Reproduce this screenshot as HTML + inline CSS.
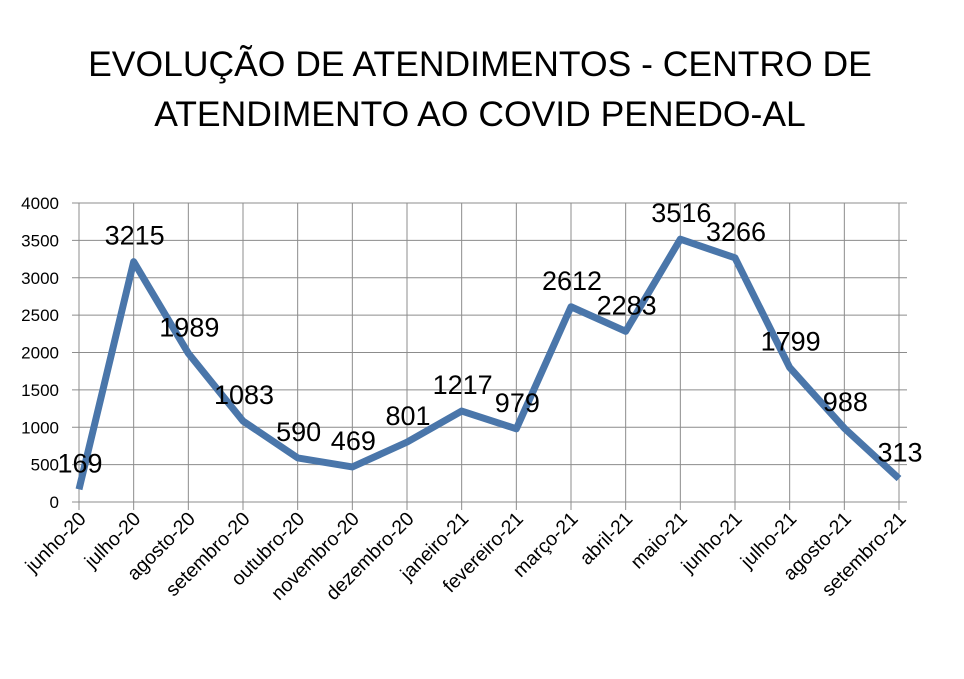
<!DOCTYPE html>
<html><head><meta charset="utf-8"><style>
html,body{margin:0;padding:0;background:#fff;}
svg{display:block;font-family:"Liberation Sans",sans-serif;}
</style></head><body>
<svg id="c" width="964" height="679">
<text x="480" y="76" font-size="35.5" text-anchor="middle" fill="#000">EVOLUÇÃO DE ATENDIMENTOS - CENTRO DE</text>
<text x="480" y="126" font-size="35.5" text-anchor="middle" fill="#000">ATENDIMENTO AO COVID PENEDO-AL</text>
<g id="grid"></g>
<g id="marks"></g>
</svg>
<script>
const categories=["junho-20","julho-20","agosto-20","setembro-20","outubro-20","novembro-20","dezembro-20","janeiro-21","fevereiro-21","março-21","abril-21","maio-21","junho-21","julho-21","agosto-21","setembro-21"];
const values=[169,3215,1989,1083,590,469,801,1217,979,2612,2283,3516,3266,1799,988,313];
const yTicks=[0,500,1000,1500,2000,2500,3000,3500,4000];
const NS="http://www.w3.org/2000/svg";
const x0=79,x1=899,yTop=203,yBot=502,yMax=4000;
function xs(i){return x0+i*(x1-x0)/(categories.length-1);}
function ys(v){return yBot-v*(yBot-yTop)/yMax;}
function mk(t,a,p){const e=document.createElementNS(NS,t);for(const k in a)e.setAttribute(k,a[k]);p.appendChild(e);return e;}
const g=document.getElementById('grid'),m=document.getElementById('marks');
yTicks.forEach(v=>{
 const l=mk('line',{x1:72,x2:907,y1:ys(v),y2:ys(v),stroke:'#8c8c8c','stroke-width':1},g);
 
 
 const t=mk('text',{x:59,y:ys(v)+6,'font-size':17,'text-anchor':'end',fill:'#000'},g);
 t.textContent=v;
 
 
});
categories.forEach((c,i)=>{
 const l=mk('line',{x1:xs(i),x2:xs(i),y1:yTop,y2:510,stroke:'#8c8c8c','stroke-width':1},g);
 
 
 const t=mk('text',{x:0,y:0,'font-size':19.5,'text-anchor':'end',fill:'#000',transform:`translate(${xs(i)+8},${520}) rotate(-45)`},g);
 t.textContent=c;
 
 
});
const pl=mk('polyline',{points:values.map((v,i)=>xs(i)+','+ys(v)).join(' '),fill:'none',stroke:'#4a76aa','stroke-width':7,'stroke-linejoin':'round'},m);


values.forEach((v,i)=>{
 const t=mk('text',{x:xs(i)+1,y:ys(v)-17,'font-size':27,'text-anchor':'middle',fill:'#000'},m);
 t.textContent=v;
 
 
});
</script>
</body></html>
